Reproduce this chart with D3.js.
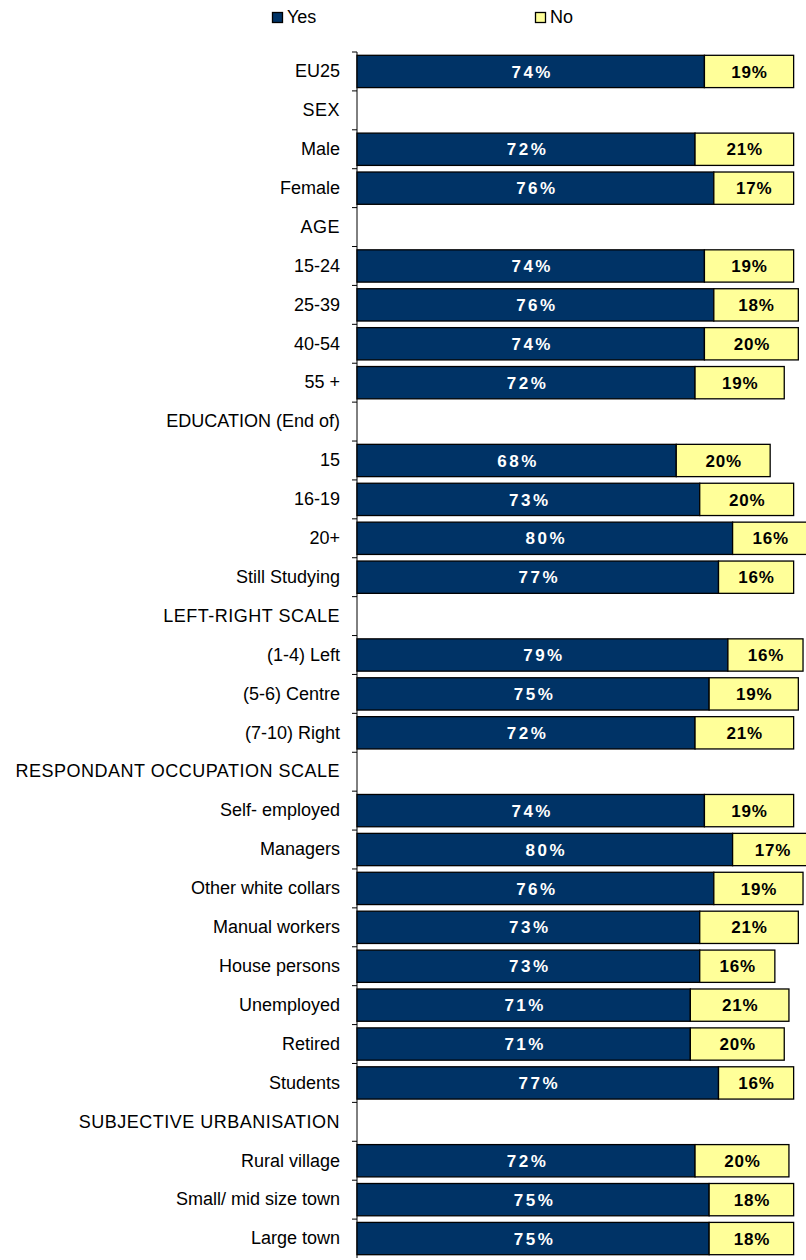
<!DOCTYPE html>
<html><head><meta charset="utf-8">
<script src="https://cdn.jsdelivr.net/npm/d3@7"></script>
<style>body{margin:0;background:#fff}svg{display:block}</style>
</head><body><svg id="c" width="806" height="1260"></svg>
<script>
const categories = ["EU25","SEX","Male","Female","AGE","15-24","25-39","40-54","55 +","EDUCATION (End of)","15","16-19","20+","Still Studying","LEFT-RIGHT SCALE","(1-4)  Left","(5-6)  Centre","(7-10) Right","RESPONDANT OCCUPATION SCALE","Self- employed","Managers","Other white collars","Manual workers","House persons","Unemployed","Retired","Students","SUBJECTIVE URBANISATION","Rural village","Small/ mid size town","Large town"];
const yes = [74,null,72,76,null,74,76,74,72,null,68,73,80,77,null,79,75,72,null,74,80,76,73,73,71,71,77,null,72,75,75];
const no  = [19,null,21,17,null,19,18,20,19,null,20,20,16,16,null,16,19,21,null,19,17,19,21,16,21,20,16,null,20,18,18];
const seriesNames = ["Yes","No"];
const colors = ["#003366","#FFFF99"];

const svg = d3.select("#c");
const font = "'Liberation Sans', Arial, sans-serif";
const x = d3.scaleLinear().domain([0,100]).range([357, 357+469.5]);
const y = d3.scaleBand().domain(categories).range([52,1258]).paddingInner(0.17).paddingOuter(0.085);

// axis
const axis = d3.axisLeft(y).tickSize(0).tickPadding(17);
const g = svg.append("g").attr("transform","translate(357,0)").call(axis);
g.select(".domain").remove();
g.selectAll("text").attr("font-family",font).attr("font-size",18).attr("fill","#000")
  .attr("letter-spacing",d=>(d===d.toUpperCase() && /[A-Z]{3}/.test(d)) ? "0.5px" : "0px");
const bounds = d3.range(categories.length+1).map(i=>52+i*(1206/categories.length));
svg.append("line").attr("x1",357).attr("x2",357).attr("y1",52).attr("y2",1258).attr("stroke","#000").attr("stroke-width",1);
svg.selectAll("line.tk").data(bounds.slice(0,-1)).enter().append("line").attr("class","tk")
  .attr("x1",352).attr("x2",357).attr("y1",d=>d).attr("y2",d=>d).attr("stroke","#000");

const rows = categories.map((c,i)=>({c,yes:yes[i],no:no[i]})).filter(d=>d.yes!=null);
const bh = y.bandwidth();
rows.forEach(d=>{
  const gy = y(d.c);
  svg.append("rect").attr("x",x(0)).attr("y",gy).attr("width",x(d.yes)-x(0)).attr("height",bh)
    .attr("fill",colors[0]).attr("stroke","#000").attr("stroke-width",1.3);
  svg.append("rect").attr("x",x(d.yes)).attr("y",gy).attr("width",x(d.yes+d.no)-x(d.yes)).attr("height",bh)
    .attr("fill",colors[1]).attr("stroke","#000").attr("stroke-width",1.3);
  svg.append("text").attr("x",(x(0)+x(d.yes))/2 + 1.5).attr("y",gy+bh/2).attr("dy","0.36em")
    .attr("text-anchor","middle").attr("font-family",font).attr("font-weight","bold").attr("font-size",17)
    .attr("letter-spacing","2.5px").attr("fill","#fff").text(d.yes+"%");
  svg.append("text").attr("x",(x(d.yes)+x(d.yes+d.no))/2 + 0.5).attr("y",gy+bh/2).attr("dy","0.36em")
    .attr("text-anchor","middle").attr("font-family",font).attr("font-weight","bold").attr("font-size",17)
    .attr("letter-spacing","0.8px").attr("fill","#000").text(d.no+"%");
});

// legend
const legX = [272, 535];
seriesNames.forEach((s,i)=>{
  svg.append("rect").attr("x",legX[i]+0.5).attr("y",12.5).attr("width",10).attr("height",10)
    .attr("fill",colors[i]).attr("stroke","#000").attr("stroke-width",1.3);
  svg.append("text").attr("x",legX[i]+15).attr("y",23).attr("font-family",font).attr("font-size",18)
    .text(s);
});
</script></body></html>
